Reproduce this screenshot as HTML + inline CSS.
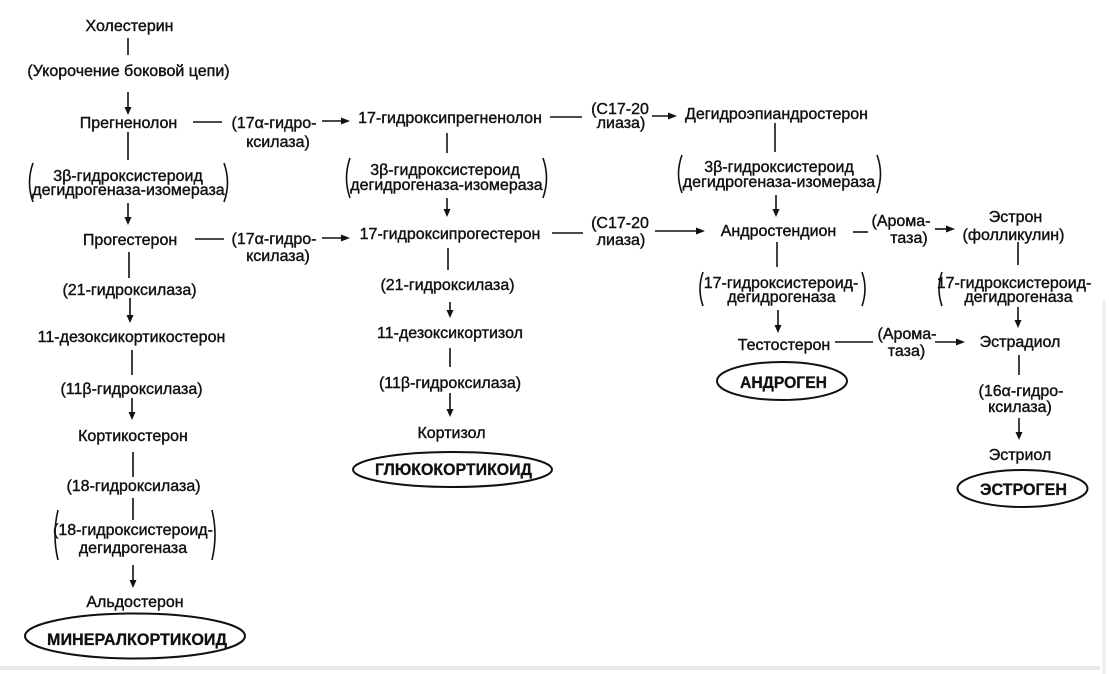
<!DOCTYPE html>
<html><head><meta charset="utf-8"><style>
html,body{margin:0;padding:0;background:#fff;}
svg{display:block;}
text{font-family:"Liberation Sans","DejaVu Sans",sans-serif;font-size:16px;fill:#111;stroke:#111;stroke-width:0.4;}
text.b{font-weight:bold;font-size:17px;stroke-width:0.3;}
.l{stroke:#111;stroke-width:1.6;fill:none;}
.p{stroke:#111;stroke-width:1.6;fill:none;}
.h{fill:#111;stroke:none;}
</style></head><body>
<svg width="1109" height="674" viewBox="0 0 1109 674" xmlns="http://www.w3.org/2000/svg">
<rect width="1109" height="674" fill="#fff"/>
<line x1="0" y1="668" x2="1100" y2="668" stroke="#e8e8e8" stroke-width="4"/>
<line x1="1104" y1="300" x2="1104" y2="674" stroke="#ececec" stroke-width="3"/>

<g text-anchor="middle">
<!-- Column 1 -->
<text x="129.5" y="31">Холестерин</text>
<line class="l" x1="128" y1="38" x2="128" y2="55"/>
<text x="128.5" y="76">(Укорочение боковой цепи)</text>
<line class="l" x1="128" y1="92" x2="128" y2="108"/><polygon class="h" points="124.5,107 131.5,107 128,115"/>
<text x="128.5" y="128">Прегненолон</text>
<line class="l" x1="193" y1="122" x2="222" y2="122"/>
<text x="274" y="128">(17α-гидро-</text>
<text x="278" y="147">ксилаза)</text>
<line class="l" x1="322" y1="121" x2="343" y2="121"/><polygon class="h" points="341,117.5 341,124.5 350,121"/>
<line class="l" x1="128" y1="132" x2="128" y2="160"/>
<path class="p" d="M33,163 Q26,182.5 33,202"/><path class="p" d="M224,163 Q231,182.5 224,202"/>
<text x="128" y="181">3β-гидроксистероид</text>
<text x="128.5" y="195">дегидрогеназа-изомераза</text>
<line class="l" x1="128" y1="203" x2="128" y2="218"/><polygon class="h" points="124.5,217 131.5,217 128,225"/>
<text x="130" y="245">Прогестерон</text>
<line class="l" x1="195" y1="239" x2="224" y2="239"/>
<text x="274" y="244">(17α-гидро-</text>
<text x="278" y="261">ксилаза)</text>
<line class="l" x1="322" y1="238" x2="343" y2="238"/><polygon class="h" points="341,234.5 341,241.5 350,238"/>
<line class="l" x1="129" y1="252" x2="129" y2="278"/>
<text x="129.5" y="295">(21-гидроксилаза)</text>
<line class="l" x1="130" y1="298" x2="130" y2="316"/><polygon class="h" points="126.5,315 133.5,315 130,323"/>
<text x="131.5" y="342">11-дезоксикортикостерон</text>
<line class="l" x1="132" y1="350" x2="132" y2="375"/>
<text x="131.5" y="394">(11β-гидроксилаза)</text>
<line class="l" x1="132" y1="398" x2="132" y2="413"/><polygon class="h" points="128.5,412 135.5,412 132,420"/>
<text x="133" y="441">Кортикостерон</text>
<line class="l" x1="133" y1="452" x2="133" y2="477"/>
<text x="133.5" y="491">(18-гидроксилаза)</text>
<line class="l" x1="133" y1="498" x2="133" y2="520"/>
<path class="p" d="M58,510 Q52,535 58,560"/><path class="p" d="M212,510 Q218,535 212,560"/>
<text x="133" y="535">(18-гидроксистероид-</text>
<text x="133" y="553">дегидрогеназа</text>
<line class="l" x1="133" y1="565" x2="133" y2="581"/><polygon class="h" points="129.5,580 136.5,580 133,588"/>
<text x="135" y="607">Альдостерон</text>
<ellipse cx="135" cy="636" rx="110" ry="22.5" fill="none" stroke="#111" stroke-width="2"/>
<text class="b" x="137" y="645" textLength="180" lengthAdjust="spacingAndGlyphs">МИНЕРАЛКОРТИКОИД</text>

<!-- Column 2 -->
<text x="450" y="123">17-гидроксипрегненолон</text>
<line class="l" x1="550" y1="117" x2="582" y2="117"/>
<text x="620" y="114">(С17-20</text>
<text x="621" y="128">лиаза)</text>
<line class="l" x1="652" y1="116" x2="670" y2="116"/><polygon class="h" points="668,112.5 668,119.5 677,116"/>
<text x="776.5" y="119">Дегидроэпиандростерон</text>
<line class="l" x1="447" y1="133" x2="447" y2="153"/>
<path class="p" d="M350,158 Q343,178 350,198"/><path class="p" d="M543,158 Q550,178 543,198"/>
<text x="445" y="175">3β-гидроксистероид</text>
<text x="446.5" y="190">дегидрогеназа-изомераза</text>
<line class="l" x1="447" y1="198" x2="447" y2="210"/><polygon class="h" points="443.5,209 450.5,209 447,217"/>
<text x="450" y="239">17-гидроксипрогестерон</text>
<line class="l" x1="552" y1="233" x2="583" y2="233"/>
<text x="620" y="228">(С17-20</text>
<text x="621" y="245">лиаза)</text>
<line class="l" x1="655" y1="231" x2="698" y2="231"/><polygon class="h" points="696,227.5 696,234.5 705,231"/>
<line class="l" x1="448" y1="248" x2="448" y2="270"/>
<text x="447.5" y="290">(21-гидроксилаза)</text>
<line class="l" x1="450" y1="302" x2="450" y2="311"/><polygon class="h" points="446.5,310 453.5,310 450,318"/>
<text x="450" y="338">11-дезоксикортизол</text>
<line class="l" x1="450" y1="348" x2="450" y2="367"/>
<text x="450" y="388">(11β-гидроксилаза)</text>
<line class="l" x1="450" y1="393" x2="450" y2="410"/><polygon class="h" points="446.5,409 453.5,409 450,417"/>
<text x="451.5" y="438">Кортизол</text>
<ellipse cx="452.5" cy="469.5" rx="99.5" ry="17.5" fill="none" stroke="#111" stroke-width="2"/>
<text class="b" x="453.5" y="475" textLength="157" lengthAdjust="spacingAndGlyphs">ГЛЮКОКОРТИКОИД</text>

<!-- Column 3 -->
<line class="l" x1="775" y1="123" x2="775" y2="152"/>
<path class="p" d="M682,155 Q675,174 682,193"/><path class="p" d="M877,155 Q884,174 877,193"/>
<text x="779" y="172">3β-гидроксистероид</text>
<text x="779" y="187">дегидрогеназа-изомераза</text>
<line class="l" x1="776" y1="195" x2="776" y2="210"/><polygon class="h" points="772.5,209 779.5,209 776,217"/>
<text x="778.5" y="236">Андростендион</text>
<line class="l" x1="853" y1="232" x2="868" y2="232"/>
<text x="901" y="226">(Арома-</text>
<text x="909" y="243">таза)</text>
<line class="l" x1="935" y1="229" x2="948" y2="229"/><polygon class="h" points="946,225.5 946,232.5 955,229"/>
<text x="1015.5" y="222">Эстрон</text>
<text x="1013.5" y="240">(фолликулин)</text>
<line class="l" x1="777" y1="242" x2="777" y2="267"/>
<path class="p" d="M703,272 Q697,289 703,306"/><path class="p" d="M862,272 Q868,289 862,306"/>
<text x="781" y="288">17-гидроксистероид-</text>
<text x="781.5" y="302">дегидрогеназа</text>
<line class="l" x1="778" y1="310" x2="778" y2="326"/><polygon class="h" points="774.5,325 781.5,325 778,333"/>
<text x="784" y="350">Тестостерон</text>
<line class="l" x1="835" y1="342" x2="873" y2="342"/>
<text x="907" y="339">(Арома-</text>
<text x="906.5" y="356">таза)</text>
<line class="l" x1="935" y1="342" x2="958" y2="342"/><polygon class="h" points="956,338.5 956,345.5 965,342"/>
<text x="1020" y="347">Эстрадиол</text>
<ellipse cx="782" cy="381" rx="65" ry="19" fill="none" stroke="#111" stroke-width="2"/>
<text class="b" x="783.5" y="388" textLength="87" lengthAdjust="spacingAndGlyphs">АНДРОГЕН</text>

<!-- Column 4 -->
<line class="l" x1="1018" y1="242" x2="1018" y2="265"/>
<path class="p" d="M942,272 Q936,289 942,306"/>
<text x="1014" y="288">17-гидроксистероид-</text>
<text x="1018.5" y="302">дегидрогеназа</text>
<line class="l" x1="1018" y1="307" x2="1018" y2="321"/><polygon class="h" points="1014.5,320 1021.5,320 1018,328"/>
<line class="l" x1="1019" y1="355" x2="1019" y2="375"/>
<text x="1021" y="396">(16α-гидро-</text>
<text x="1020" y="412">ксилаза)</text>
<line class="l" x1="1019" y1="418" x2="1019" y2="433"/><polygon class="h" points="1015.5,432 1022.5,432 1019,440"/>
<text x="1020" y="460">Эстриол</text>
<ellipse cx="1022.5" cy="488.5" rx="65" ry="18.5" fill="none" stroke="#111" stroke-width="2"/>
<text class="b" x="1023.5" y="495" textLength="87" lengthAdjust="spacingAndGlyphs">ЭСТРОГЕН</text>
</g>
</svg>
</body></html>
